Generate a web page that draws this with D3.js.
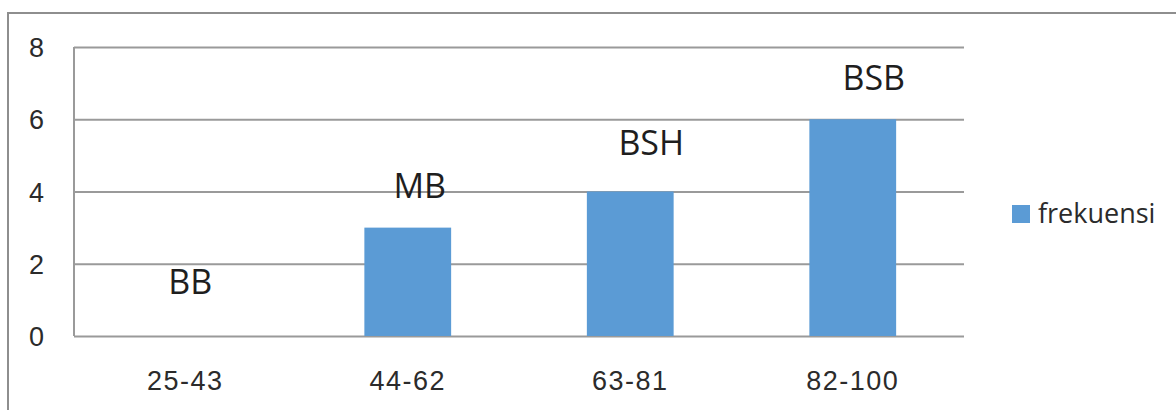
<!DOCTYPE html>
<html>
<head>
<meta charset="utf-8">
<script src="https://cdn.jsdelivr.net/npm/d3@7"></script>
<style>
  html, body { margin: 0; padding: 0; background: #fff; }
  svg { display: block; font-family: "Open Sans", "Noto Sans", sans-serif; }
</style>
</head>
<body>
<svg id="chart" width="1176" height="410"></svg>
<script>
// Score ranges and how many results fell in each
const categories = ["25-43", "44-62", "63-81", "82-100"];
const frekuensi = [0, 3, 4, 6];
const grades = ["BB", "MB", "BSH", "BSB"];
const yTicks = [0, 2, 4, 6, 8];
const seriesName = "frekuensi";

// Hand-placed grade labels: pixel nudge from the top of each bar
const gradeNudge = [[5, -54], [12, -42], [21, -49], [21, -41]];

const svg = d3.select("#chart");
const W = 1176, H = 410;
const plot = { left: 74, right: 964, top: 47, bottom: 336 };

// Chart frame
svg.append("rect")
  .attr("x", 8).attr("y", 13)
  .attr("width", W + 10).attr("height", H + 10)
  .attr("fill", "#fff")
  .attr("stroke", "#8e8e8e").attr("stroke-width", 2);

const x = d3.scaleBand()
  .domain(categories)
  .range([plot.left, plot.right])
  .paddingInner(0.61)
  .paddingOuter(0.305);

const y = d3.scaleLinear()
  .domain([0, 8])
  .range([plot.bottom, plot.top]);

// Horizontal gridlines and y tick labels
const yAxis = d3.axisLeft(y)
  .tickValues(yTicks)
  .tickSize(-(plot.right - plot.left))
  .tickPadding(30)
  .tickFormat(d3.format("d"));

const gy = svg.append("g")
  .attr("transform", `translate(${plot.left},0)`)
  .call(yAxis);
gy.select(".domain").attr("stroke", "#9a9a9a").attr("stroke-width", 2)
  .attr("d", `M0,${plot.top}V${plot.bottom}`);
gy.selectAll(".tick line").attr("stroke", "#9a9a9a").attr("stroke-width", 2);
gy.selectAll(".tick text")
  .attr("fill", "#2b2b2b")
  .attr("font-size", 27)
  .attr("dy", "0.36em");

// Category labels under the plot
const xAxis = d3.axisBottom(x).tickSize(0).tickPadding(0);
const gx = svg.append("g")
  .attr("transform", `translate(0,${plot.bottom})`)
  .call(xAxis);
gx.select(".domain").remove();
gx.selectAll(".tick text")
  .attr("fill", "#2b2b2b")
  .attr("font-size", 27)
  .attr("letter-spacing", 1.5)
  .attr("y", 54)
  .attr("dy", 0);

// Bars
svg.append("g")
  .selectAll("rect")
  .data(frekuensi)
  .join("rect")
  .attr("x", (d, i) => x(categories[i]))
  .attr("y", d => y(d))
  .attr("width", x.bandwidth())
  .attr("height", d => y(0) - y(d))
  .attr("fill", "#5b9bd5");

// Grade labels above the bars
svg.append("g")
  .selectAll("text")
  .data(grades)
  .join("text")
  .attr("x", (d, i) => x(categories[i]) + x.bandwidth() / 2 + gradeNudge[i][0])
  .attr("y", (d, i) => y(frekuensi[i]) + gradeNudge[i][1])
  .attr("dy", "0.36em")
  .attr("text-anchor", "middle")
  .attr("font-size", 34)
  .attr("fill", "#1e1e1e")
  .text(d => d);

// Legend
const legend = svg.append("g").attr("transform", "translate(1012,205)");
legend.append("rect")
  .attr("width", 18).attr("height", 18)
  .attr("fill", "#5b9bd5");
legend.append("text")
  .attr("x", 26).attr("y", 18)
  .attr("font-size", 27)
  .attr("fill", "#2b2b2b")
  .text(seriesName);
</script>
</body>
</html>
